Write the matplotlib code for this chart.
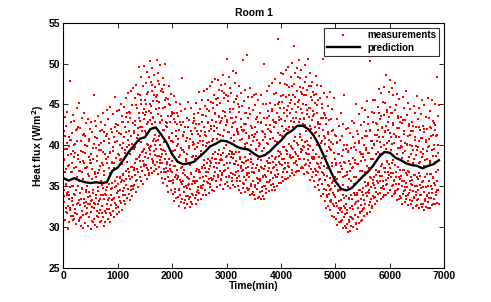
import numpy as np
import matplotlib
matplotlib.use('Agg')
import matplotlib.pyplot as plt

plt.rcParams['font.family'] = ['Liberation Sans', 'DejaVu Sans']
plt.rcParams['font.weight'] = 'bold'

# prediction, one value every 100 min (0 ... 6900)
pred_time = list(range(0, 7000, 100))
prediction = [36.0, 35.7, 36.0, 35.7, 35.5, 35.4, 35.5, 35.4, 35.5, 36.9,
              37.3, 38.2, 39.2, 40.0, 40.8, 41.0, 42.0, 42.2, 41.3, 40.3,
              38.9, 38.0, 37.7, 37.8, 38.0, 38.6, 39.2, 39.9, 40.2, 40.6,
              40.5, 40.2, 39.8, 39.6, 39.5, 39.0, 38.6, 38.8, 39.3, 40.0,
              40.6, 41.4, 41.8, 42.4, 42.4, 42.0, 41.2, 40.0, 38.5, 37.0,
              35.6, 34.7, 34.5, 34.8, 35.5, 36.2, 36.8, 37.6, 38.6, 39.2,
              39.1, 38.5, 38.2, 37.8, 37.6, 37.5, 37.2, 37.5, 37.7, 38.2]

# measurements, three sensors sampled every 10 min (one row = 100 min)
meas_a = [
    [31.2, 34.6, 33.8, 30.9, 35.1, 32.4, 33.9, 31.7, 34.3, 29.8],
    [33.5, 30.6, 32.1, 34.9, 31.4, 33.2, 35.0, 30.9, 32.7, 34.1],
    [31.0, 33.9, 32.2, 34.6, 30.4, 32.9, 31.6, 35.0, 33.3, 30.8],
    [34.2, 31.1, 30.2, 33.4, 32.0, 34.7, 31.5, 29.9, 33.0, 32.6],
    [30.5, 33.1, 34.5, 31.8, 32.4, 30.1, 33.7, 31.2, 34.3, 32.9],
    [31.9, 29.8, 33.3, 32.5, 30.7, 34.2, 31.0, 33.0, 30.3, 32.8],
    [33.6, 31.4, 30.0, 32.9, 34.4, 31.8, 33.2, 30.6, 32.1, 34.0],
    [30.8, 32.6, 34.8, 31.3, 33.5, 30.2, 32.0, 34.1, 31.7, 33.9],
    [32.2, 34.9, 31.0, 33.6, 35.3, 31.8, 30.6, 34.0, 32.7, 33.3],
    [34.8, 32.0, 33.4, 31.3, 35.6, 33.0, 32.4, 35.0, 31.6, 34.2],
    [32.5, 35.3, 33.7, 31.9, 34.6, 36.2, 33.0, 32.1, 35.8, 34.4],
    [36.4, 33.2, 35.7, 34.0, 32.8, 36.9, 35.2, 33.6, 34.7, 37.1],
    [34.1, 36.8, 33.3, 35.9, 37.4, 34.6, 36.2, 33.8, 35.0, 37.0],
    [35.2, 37.9, 36.4, 34.3, 38.3, 35.8, 37.1, 34.9, 36.7, 38.6],
    [38.8, 36.1, 37.4, 35.6, 39.2, 36.9, 38.1, 35.3, 37.7, 39.6],
    [36.4, 39.1, 37.6, 40.2, 35.9, 38.5, 37.0, 39.7, 36.6, 38.9],
    [39.8, 37.2, 38.4, 36.6, 40.5, 37.9, 39.3, 36.9, 38.8, 40.1],
    [37.1, 39.6, 38.0, 40.7, 36.5, 38.7, 37.4, 40.0, 38.2, 36.8],
    [38.6, 36.0, 37.8, 35.4, 39.4, 36.7, 38.3, 35.9, 37.2, 39.0],
    [35.0, 37.7, 36.2, 34.3, 38.4, 35.6, 37.1, 34.6, 36.9, 38.1],
    [36.8, 34.1, 35.4, 33.2, 37.5, 34.7, 36.1, 33.6, 35.9, 37.0],
    [33.7, 36.3, 34.6, 32.6, 35.8, 34.0, 37.2, 33.1, 35.3, 36.6],
    [35.7, 33.0, 34.3, 32.4, 36.4, 33.8, 35.1, 32.9, 34.8, 36.0],
    [33.4, 35.9, 32.5, 34.7, 36.6, 33.1, 35.3, 32.8, 34.0, 35.6],
    [36.2, 33.6, 35.4, 32.9, 36.9, 34.3, 35.7, 33.3, 34.9, 37.0],
    [34.2, 36.7, 35.1, 33.4, 37.3, 34.8, 36.1, 33.9, 35.6, 37.6],
    [37.2, 34.5, 36.3, 33.9, 37.9, 35.4, 36.8, 34.2, 35.9, 38.1],
    [35.3, 37.8, 36.0, 34.6, 38.5, 35.9, 37.4, 34.4, 36.7, 38.3],
    [38.4, 35.6, 37.3, 34.9, 39.0, 36.2, 37.8, 35.2, 36.9, 38.8],
    [35.8, 38.2, 36.4, 34.7, 39.1, 36.9, 37.6, 35.3, 38.6, 36.1],
    [38.7, 35.5, 37.2, 35.0, 38.9, 36.3, 37.9, 34.8, 36.6, 39.2],
    [36.0, 38.5, 35.2, 37.7, 39.0, 36.4, 34.9, 38.1, 36.8, 35.6],
    [37.6, 35.1, 36.3, 34.5, 38.4, 35.7, 37.2, 34.2, 36.9, 38.0],
    [35.4, 37.9, 36.1, 34.3, 38.6, 35.8, 37.3, 34.8, 36.6, 38.2],
    [37.4, 34.7, 36.2, 33.9, 38.0, 35.3, 36.8, 34.1, 35.6, 37.7],
    [34.0, 36.6, 35.2, 33.4, 37.3, 34.7, 36.0, 33.6, 35.9, 37.0],
    [36.9, 34.3, 35.6, 33.5, 37.4, 34.9, 36.3, 33.8, 35.1, 37.1],
    [35.0, 37.5, 36.1, 34.2, 38.1, 35.5, 36.9, 34.4, 37.2, 35.8],
    [37.8, 35.2, 36.6, 34.6, 38.7, 36.0, 37.3, 34.9, 36.4, 38.4],
    [36.1, 38.6, 37.0, 35.1, 39.3, 36.5, 38.0, 35.4, 37.7, 39.0],
    [38.9, 36.2, 37.6, 35.6, 39.8, 37.1, 38.4, 35.9, 37.3, 39.4],
    [36.7, 39.3, 37.9, 36.0, 40.2, 37.4, 38.8, 36.3, 38.5, 39.9],
    [39.7, 37.0, 38.6, 36.4, 40.6, 37.8, 39.2, 36.8, 38.1, 40.3],
    [37.6, 40.1, 38.7, 36.9, 41.0, 38.3, 39.6, 37.2, 39.4, 40.7],
    [39.9, 37.3, 38.4, 36.5, 40.4, 37.7, 39.1, 36.7, 38.9, 40.0],
    [36.6, 39.0, 37.5, 35.8, 39.9, 37.1, 38.6, 36.2, 38.3, 39.5],
    [38.3, 35.7, 37.1, 34.9, 39.0, 36.4, 37.8, 35.2, 36.7, 38.6],
    [34.6, 37.2, 35.9, 33.8, 37.9, 35.3, 36.7, 34.1, 36.4, 37.5],
    [35.8, 33.2, 34.6, 32.4, 36.3, 33.7, 35.2, 32.6, 34.1, 36.0],
    [32.1, 34.7, 33.3, 31.4, 35.4, 32.8, 34.2, 31.2, 33.9, 35.1],
    [33.7, 31.0, 32.6, 30.3, 34.4, 31.8, 33.2, 30.6, 32.1, 34.6],
    [30.7, 33.3, 31.9, 29.9, 34.0, 31.2, 32.6, 30.1, 32.3, 33.8],
    [32.9, 30.4, 31.7, 29.4, 33.6, 30.9, 32.4, 29.6, 31.3, 34.0],
    [31.1, 33.5, 32.2, 30.0, 34.2, 31.5, 32.8, 30.4, 33.1, 29.8],
    [33.9, 31.3, 32.4, 30.5, 34.6, 31.8, 33.4, 30.8, 32.0, 34.3],
    [32.2, 34.8, 33.3, 31.4, 35.5, 32.9, 34.2, 31.6, 33.8, 35.2],
    [35.4, 32.7, 34.2, 31.9, 36.1, 33.5, 34.9, 32.3, 33.8, 35.8],
    [33.6, 36.2, 34.8, 32.9, 37.0, 34.3, 35.7, 33.2, 35.4, 36.7],
    [36.8, 34.2, 35.6, 33.4, 37.5, 34.8, 36.3, 33.7, 35.1, 37.2],
    [34.7, 37.2, 35.8, 33.9, 38.0, 35.3, 36.7, 34.2, 36.4, 37.7],
    [37.3, 34.5, 36.1, 33.8, 37.9, 35.2, 36.6, 34.1, 35.7, 37.6],
    [34.2, 36.8, 35.3, 33.3, 37.4, 34.7, 36.1, 33.5, 35.9, 37.0],
    [36.3, 33.6, 35.1, 32.9, 37.0, 34.4, 35.7, 33.1, 34.6, 36.6],
    [33.8, 36.4, 34.9, 32.7, 36.9, 34.2, 35.6, 33.3, 35.3, 36.1],
    [35.8, 33.2, 34.4, 32.4, 36.4, 33.7, 35.1, 32.6, 34.0, 36.2],
    [33.3, 35.9, 34.6, 32.3, 36.6, 33.9, 35.2, 32.8, 34.8, 35.5],
    [35.6, 32.9, 34.3, 32.1, 36.2, 33.5, 34.9, 32.5, 33.9, 36.5],
    [33.1, 35.7, 34.2, 32.4, 36.5, 33.6, 35.0, 32.7, 34.7, 36.0],
    [36.1, 33.5, 35.2, 32.8, 36.8, 34.3, 35.6, 33.0, 34.6, 37.0],
]
meas_b = [
    [41.8, 38.2, 43.5, 39.6, 37.1, 42.4, 40.3, 44.1, 38.8, 41.0],
    [37.6, 47.9, 40.7, 38.9, 42.8, 36.8, 41.5, 39.3, 43.7, 40.1],
    [43.0, 39.1, 41.9, 37.4, 44.6, 40.5, 38.4, 42.3, 36.9, 45.2],
    [38.0, 42.1, 40.6, 36.7, 43.4, 39.2, 41.3, 37.8, 44.0, 40.0],
    [41.1, 37.3, 42.7, 39.9, 36.5, 43.2, 38.6, 40.8, 37.9, 42.0],
    [39.0, 42.9, 37.1, 41.6, 38.3, 46.1, 40.2, 36.8, 43.0, 39.7],
    [42.4, 38.1, 40.9, 36.6, 43.6, 39.4, 41.7, 37.5, 42.8, 40.3],
    [37.8, 41.9, 39.2, 43.9, 36.9, 40.6, 42.5, 38.4, 41.2, 44.3],
    [41.4, 38.6, 43.2, 37.3, 40.8, 44.7, 39.1, 42.0, 37.8, 41.6],
    [39.3, 43.8, 41.0, 37.9, 45.9, 40.4, 42.6, 38.5, 44.2, 41.7],
    [42.5, 38.8, 44.3, 40.1, 38.2, 45.0, 41.4, 43.6, 39.7, 42.9],
    [40.3, 44.7, 42.2, 39.1, 45.8, 41.6, 43.9, 39.8, 46.4, 42.8],
    [44.1, 40.0, 43.3, 46.6, 41.2, 44.9, 39.6, 42.7, 47.0, 41.8],
    [41.5, 45.8, 43.0, 47.4, 40.9, 44.6, 42.1, 46.3, 43.9, 49.6],
    [46.2, 42.3, 45.1, 48.4, 41.8, 44.0, 47.3, 43.2, 49.7, 45.6],
    [43.7, 47.6, 45.0, 49.0, 42.6, 46.5, 44.2, 48.3, 43.1, 50.3],
    [47.8, 44.0, 46.7, 49.5, 43.3, 45.4, 48.6, 42.9, 47.1, 45.9],
    [44.5, 50.4, 46.2, 43.8, 48.9, 45.3, 47.5, 42.7, 49.8, 46.6],
    [46.9, 43.1, 48.2, 44.6, 41.9, 47.4, 45.5, 49.9, 42.8, 45.8],
    [42.2, 45.7, 43.6, 47.2, 41.0, 44.9, 42.9, 46.3, 40.6, 43.8],
    [44.1, 40.4, 43.2, 46.0, 39.5, 42.8, 45.3, 41.1, 43.9, 39.9],
    [40.2, 43.6, 41.9, 45.0, 38.8, 42.5, 44.2, 39.4, 48.2, 41.1],
    [42.8, 39.2, 41.6, 44.5, 38.1, 40.5, 43.4, 38.9, 42.2, 45.3],
    [39.7, 43.1, 40.8, 37.9, 44.6, 41.4, 38.6, 42.7, 40.1, 43.8],
    [43.3, 39.6, 42.1, 45.2, 38.7, 41.8, 44.0, 40.3, 46.5, 42.6],
    [40.6, 44.4, 41.8, 38.9, 45.6, 42.9, 40.0, 43.7, 46.6, 41.3],
    [44.8, 41.2, 43.6, 46.9, 40.3, 42.7, 45.5, 41.7, 44.2, 47.3],
    [42.0, 45.3, 43.1, 47.7, 40.8, 44.6, 42.4, 46.2, 43.8, 48.1],
    [45.7, 42.1, 44.9, 48.0, 41.4, 43.5, 46.8, 42.7, 45.2, 47.4],
    [43.0, 46.6, 44.2, 48.6, 41.9, 45.8, 43.6, 47.5, 42.5, 46.1],
    [50.5, 42.8, 45.4, 48.3, 41.6, 44.1, 47.0, 43.3, 46.4, 42.3],
    [43.4, 49.1, 44.5, 41.3, 47.6, 42.9, 45.7, 48.8, 42.0, 46.0],
    [45.0, 41.6, 44.1, 47.3, 40.7, 43.2, 46.4, 41.9, 44.8, 50.4],
    [41.8, 45.4, 42.6, 46.8, 40.2, 44.0, 41.5, 51.1, 43.3, 45.9],
    [44.6, 40.9, 43.8, 47.0, 40.1, 42.4, 45.9, 41.3, 44.3, 46.2],
    [41.0, 44.9, 42.2, 46.3, 39.6, 43.5, 41.6, 45.6, 42.8, 39.9],
    [43.9, 40.2, 42.7, 46.1, 39.3, 41.8, 45.0, 40.7, 43.4, 50.0],
    [41.4, 45.1, 42.5, 46.7, 40.3, 44.2, 42.0, 47.2, 43.6, 40.8],
    [45.2, 41.6, 44.4, 47.6, 40.9, 43.1, 46.3, 42.2, 44.9, 48.1],
    [42.7, 46.4, 44.0, 53.0, 41.5, 45.3, 43.1, 47.6, 44.6, 48.8],
    [46.0, 42.4, 45.3, 48.7, 41.7, 44.0, 47.5, 43.0, 45.9, 49.2],
    [43.6, 47.4, 44.8, 49.6, 42.3, 46.2, 43.9, 48.3, 45.5, 50.1],
    [47.2, 43.4, 46.1, 52.2, 42.8, 45.0, 48.8, 44.1, 49.4, 46.7],
    [44.7, 48.3, 45.6, 50.4, 43.2, 47.1, 44.4, 49.2, 46.3, 42.6],
    [47.0, 43.3, 46.2, 49.8, 42.5, 44.9, 48.4, 43.8, 46.8, 50.5],
    [43.5, 47.3, 44.6, 48.9, 42.0, 45.9, 43.1, 47.8, 44.2, 46.5],
    [46.1, 42.3, 45.2, 48.5, 41.6, 44.0, 47.4, 42.9, 45.6, 41.2],
    [42.1, 45.8, 43.4, 47.3, 40.6, 44.6, 50.5, 41.9, 44.0, 46.4],
    [43.7, 40.2, 42.6, 45.9, 39.3, 41.4, 44.8, 40.7, 43.1, 46.5],
    [39.6, 43.2, 40.4, 44.5, 37.8, 41.9, 39.1, 45.8, 41.3, 38.4],
    [41.1, 37.6, 40.3, 43.2, 36.8, 39.0, 42.4, 37.9, 40.7, 43.9],
    [37.5, 41.2, 38.7, 42.6, 36.2, 40.1, 46.2, 37.9, 39.6, 42.0],
    [40.0, 36.4, 39.2, 42.1, 35.9, 38.1, 41.5, 36.9, 39.7, 43.0],
    [37.3, 41.0, 38.5, 42.7, 36.1, 40.3, 37.8, 45.1, 39.4, 41.8],
    [41.4, 37.7, 40.6, 43.8, 36.9, 39.2, 42.5, 38.1, 44.6, 40.9],
    [39.0, 42.8, 40.1, 44.3, 38.2, 41.7, 39.5, 45.4, 41.2, 43.5],
    [42.6, 39.1, 41.8, 50.3, 38.4, 40.6, 44.1, 39.7, 42.9, 45.6],
    [40.2, 43.9, 41.3, 45.5, 38.9, 42.6, 40.5, 44.7, 41.9, 46.9],
    [44.0, 40.4, 43.2, 46.4, 39.8, 42.1, 45.3, 41.0, 43.7, 47.1],
    [41.6, 45.2, 42.4, 48.6, 40.3, 44.1, 41.9, 46.5, 43.5, 48.0],
    [44.7, 41.0, 43.9, 47.0, 40.2, 42.5, 46.1, 41.4, 44.3, 47.6],
    [41.2, 44.9, 42.1, 46.3, 39.7, 43.6, 41.0, 45.7, 42.8, 39.9],
    [43.5, 39.8, 42.7, 45.9, 39.1, 41.4, 44.6, 40.3, 43.1, 46.7],
    [40.1, 43.7, 41.2, 45.2, 38.6, 42.4, 40.0, 44.5, 41.7, 38.9],
    [42.9, 39.4, 41.8, 44.8, 38.3, 40.7, 43.9, 39.9, 42.3, 46.0],
    [39.5, 43.2, 40.6, 44.6, 38.0, 41.9, 39.2, 43.8, 40.9, 45.6],
    [42.4, 38.9, 41.6, 44.9, 38.2, 40.4, 43.5, 39.3, 42.0, 45.8],
    [39.8, 43.3, 40.8, 44.2, 38.1, 42.1, 39.4, 45.5, 41.3, 43.0],
    [42.7, 39.6, 41.9, 45.0, 38.7, 41.1, 48.4, 40.0, 43.6, 44.9],
]
meas_c = [
    [38.4, 33.1, 36.7, 41.2, 31.9, 35.3, 39.6, 34.2, 37.5, 32.6],
    [34.0, 39.9, 32.3, 36.8, 40.7, 33.6, 37.9, 31.4, 35.1, 38.6],
    [37.3, 31.8, 40.2, 34.5, 36.1, 42.0, 33.0, 38.8, 35.6, 30.9],
    [32.7, 36.9, 39.3, 31.2, 34.8, 38.1, 35.9, 41.4, 33.4, 37.2],
    [39.1, 34.3, 31.6, 37.4, 35.0, 32.9, 40.5, 36.3, 33.8, 38.2],
    [33.2, 37.8, 35.9, 30.8, 39.7, 34.6, 32.4, 36.5, 41.0, 34.0],
    [36.2, 32.0, 38.7, 34.9, 31.3, 40.1, 37.0, 33.5, 35.7, 39.4],
    [31.7, 35.2, 37.6, 33.9, 41.6, 36.4, 30.6, 38.9, 34.5, 32.8],
    [37.9, 33.3, 35.8, 40.3, 32.2, 36.6, 39.2, 31.5, 34.7, 38.0],
    [35.4, 39.8, 33.6, 37.3, 42.2, 34.9, 38.5, 32.7, 36.2, 40.6],
    [39.0, 34.4, 41.5, 36.0, 33.2, 38.3, 35.5, 42.8, 37.7, 33.9],
    [36.5, 41.0, 34.8, 39.4, 43.5, 35.9, 38.0, 33.6, 40.7, 37.1],
    [41.8, 36.3, 38.9, 44.0, 35.1, 40.2, 37.4, 42.7, 34.7, 39.6],
    [37.2, 42.5, 39.8, 35.6, 44.9, 38.4, 41.3, 36.7, 43.4, 40.6],
    [43.0, 38.1, 40.4, 45.6, 36.9, 42.2, 39.3, 44.4, 37.5, 41.7],
    [38.6, 44.1, 41.5, 37.3, 46.3, 40.0, 42.9, 36.4, 45.0, 39.5],
    [44.8, 39.9, 42.6, 47.4, 38.1, 43.5, 40.8, 46.1, 37.6, 41.3],
    [40.5, 45.4, 38.7, 43.8, 47.9, 41.2, 44.6, 37.9, 42.9, 39.6],
    [43.6, 38.9, 41.9, 46.5, 37.1, 40.4, 44.7, 39.3, 42.4, 36.8],
    [38.0, 42.7, 36.9, 40.9, 45.1, 39.4, 37.6, 43.6, 35.7, 41.5],
    [40.6, 35.8, 39.3, 43.9, 34.3, 37.5, 41.8, 36.4, 42.6, 38.1],
    [36.2, 40.8, 34.7, 38.6, 42.9, 35.5, 39.7, 33.4, 37.4, 41.3],
    [39.5, 34.9, 37.0, 42.2, 33.3, 38.4, 36.1, 40.9, 35.2, 33.8],
    [35.3, 39.9, 33.7, 37.6, 41.8, 36.5, 34.1, 40.4, 38.7, 43.0],
    [40.2, 35.7, 38.3, 42.6, 33.9, 37.1, 39.8, 34.6, 41.4, 36.8],
    [36.0, 41.1, 34.8, 39.3, 43.7, 37.4, 40.5, 35.2, 38.2, 42.3],
    [41.6, 36.7, 39.9, 44.5, 35.5, 38.3, 42.8, 37.1, 40.4, 34.9],
    [37.5, 42.4, 35.8, 40.6, 45.2, 38.9, 41.7, 36.3, 43.9, 39.2],
    [42.9, 37.9, 40.8, 45.8, 36.4, 39.5, 43.6, 38.2, 41.3, 35.9],
    [38.3, 43.3, 36.6, 41.2, 46.4, 39.7, 44.1, 37.0, 42.5, 40.0],
    [43.1, 37.8, 41.6, 46.0, 36.2, 39.3, 44.4, 38.6, 40.9, 35.7],
    [38.9, 42.7, 36.5, 40.6, 45.3, 37.7, 43.5, 39.2, 41.8, 36.0],
    [41.4, 36.9, 39.2, 44.7, 35.6, 38.6, 42.3, 37.5, 40.8, 34.8],
    [37.0, 41.9, 35.3, 39.8, 44.0, 38.1, 42.6, 36.4, 40.3, 34.5],
    [41.2, 36.6, 39.0, 43.8, 35.0, 38.4, 42.1, 37.2, 40.5, 34.3],
    [36.8, 41.4, 34.9, 39.5, 43.2, 37.6, 40.7, 35.4, 38.3, 33.7],
    [40.3, 35.9, 38.2, 42.9, 34.4, 37.3, 41.6, 36.1, 39.7, 33.5],
    [36.4, 41.0, 34.7, 39.1, 43.4, 37.8, 40.2, 35.5, 38.5, 42.5],
    [41.7, 36.8, 39.5, 44.2, 35.3, 38.0, 42.9, 37.4, 40.6, 34.6],
    [37.6, 42.8, 36.1, 40.4, 45.0, 38.7, 43.5, 39.2, 41.3, 35.4],
    [43.2, 38.4, 41.1, 46.2, 36.7, 39.8, 44.6, 37.9, 42.0, 35.9],
    [39.0, 44.3, 37.5, 41.9, 47.1, 40.2, 45.2, 38.6, 43.0, 36.6],
    [44.5, 39.6, 42.3, 47.5, 37.8, 41.0, 45.9, 38.9, 43.4, 36.9],
    [40.1, 45.3, 38.3, 42.8, 48.2, 41.4, 46.5, 39.2, 44.0, 37.4],
    [45.0, 39.8, 43.2, 47.8, 37.6, 41.7, 46.2, 40.5, 44.3, 38.2],
    [39.6, 44.6, 37.8, 42.4, 47.2, 40.9, 45.5, 38.5, 43.6, 36.8],
    [43.8, 38.6, 41.5, 46.3, 36.9, 40.1, 44.9, 37.7, 42.6, 35.8],
    [37.4, 42.6, 35.9, 40.3, 45.1, 38.5, 43.4, 36.6, 41.2, 34.7],
    [40.9, 35.8, 38.7, 43.3, 34.0, 37.2, 41.6, 35.1, 39.8, 33.2],
    [34.6, 39.4, 33.1, 37.5, 41.8, 35.7, 40.2, 32.6, 38.3, 36.1],
    [37.8, 33.0, 35.9, 40.4, 31.7, 34.6, 38.9, 32.4, 36.7, 30.8],
    [32.4, 37.1, 30.9, 35.2, 39.5, 33.6, 38.0, 31.6, 36.3, 29.9],
    [36.8, 32.1, 34.9, 39.3, 30.6, 33.4, 37.7, 31.3, 35.6, 30.1],
    [32.6, 37.4, 31.0, 35.3, 39.8, 33.9, 38.2, 30.5, 36.1, 34.2],
    [37.7, 33.2, 35.8, 40.3, 31.9, 34.6, 39.0, 32.7, 36.9, 30.9],
    [33.9, 38.6, 32.4, 36.7, 41.2, 35.1, 39.7, 31.8, 37.5, 34.3],
    [39.1, 34.5, 37.2, 41.9, 33.1, 36.0, 40.5, 32.6, 38.3, 35.4],
    [35.2, 40.1, 33.7, 38.0, 42.7, 36.4, 41.3, 34.1, 39.2, 36.9],
    [41.0, 36.3, 38.9, 43.6, 34.8, 37.7, 42.2, 35.6, 40.1, 33.9],
    [36.8, 41.7, 35.2, 39.6, 44.3, 38.1, 42.9, 36.0, 40.5, 34.6],
    [41.5, 36.6, 39.4, 44.0, 35.0, 38.2, 42.7, 35.8, 40.3, 34.4],
    [36.2, 41.0, 34.6, 38.9, 43.4, 37.4, 42.1, 35.3, 39.7, 33.8],
    [40.6, 35.7, 38.5, 43.1, 34.1, 37.0, 41.7, 34.9, 39.3, 33.4],
    [35.4, 40.2, 33.9, 38.1, 42.6, 36.7, 41.3, 34.5, 39.0, 32.9],
    [39.9, 35.2, 37.9, 42.4, 33.6, 36.4, 41.0, 34.3, 38.8, 32.7],
    [35.0, 39.8, 33.5, 37.8, 42.2, 36.3, 40.9, 34.0, 38.6, 32.5],
    [39.6, 34.9, 37.5, 42.0, 33.2, 36.1, 40.7, 33.8, 38.3, 32.3],
    [35.1, 39.9, 33.6, 37.9, 42.3, 36.5, 41.1, 34.2, 38.7, 32.8],
    [40.1, 35.4, 38.0, 42.5, 33.9, 36.8, 41.3, 34.6, 39.1, 32.9],
]

meas_a = np.array(meas_a).ravel()
meas_b = np.array(meas_b).ravel()
meas_c = np.array(meas_c).ravel()
meas_time = np.arange(len(meas_a)) * 10

fig = plt.figure(figsize=(4.91, 3.02), dpi=100)
ax = fig.add_axes([0.129, 0.112, 0.776, 0.813])

ax.plot(meas_time, meas_a, 's', color='#ff0000', ms=2.1, mew=0, label='measurements')
ax.plot(meas_time + 5, meas_b, 's', color='#ff0000', ms=2.1, mew=0)
ax.plot(meas_time + 3, meas_c, 's', color='#ff0000', ms=2.1, mew=0)
ax.plot(pred_time, prediction, '-', color='black', lw=1.7, label='prediction')

ax.set_xlim(0, 7000)
ax.set_ylim(25, 55)
ax.set_xticks(range(0, 7001, 1000))
ax.set_yticks(range(25, 56, 5))
ax.tick_params(direction='in', length=3.5, width=0.6, top=True, right=True,
               labelsize=7.5, pad=2)
for s in ax.spines.values():
    s.set_linewidth(0.8)

ax.set_title('Room 1', fontsize=7.5, fontweight='bold', pad=5)
ax.set_xlabel('Time(min)', fontsize=7.5, fontweight='bold', labelpad=0)
ax.set_ylabel('Heat flux (W/m$^2$)', fontsize=7.5, fontweight='bold', labelpad=2)

leg = ax.legend(loc='upper right', fontsize=7, frameon=True, fancybox=False,
                edgecolor='black', markerscale=1.0, borderaxespad=0.5,
                handlelength=3.4, labelspacing=0.25, borderpad=0.3)
leg.get_frame().set_linewidth(0.8)

fig.savefig('out.png', dpi=100)
